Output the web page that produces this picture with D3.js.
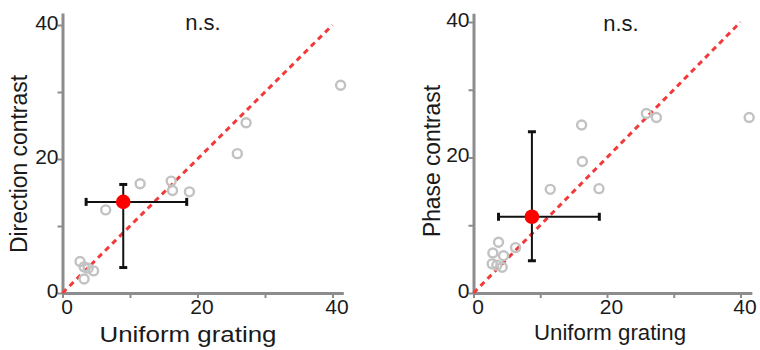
<!DOCTYPE html>
<html><head><meta charset="utf-8">
<script src="https://cdn.jsdelivr.net/npm/d3@7"></script>
<style>
html,body{margin:0;padding:0;background:#fff;}
svg{display:block;font-family:"Liberation Sans",Arial,Helvetica,sans-serif;}
</style></head>
<body><svg id="chart" width="760" height="350"></svg>
<script>
// ---- data ----
const tickValues = [0, 10, 20, 30, 40];
const tickLabels = ["0", "", "20", "", "40"];
const xAxisTitle = "Uniform grating";
const panelTitles = ["n.s.", "n.s."];
const yAxisTitles = ["Direction contrast", "Phase contrast"];

// panel 1: Uniform grating vs Direction contrast
const uniformDir   = [41.2, 27.2, 25.9, 11.5, 16.1, 16.3, 18.8, 6.4, 2.6, 3.2, 4.6, 3.2, 3.8];
const directionVal = [31.0, 25.4, 20.8, 16.3, 16.7, 15.3, 15.1, 12.4, 4.7, 3.9, 3.3, 2.1, 3.7];
const meanDir = [9.0, 13.6];
const errDirX = [3.5, 18.4];
const errDirY = [3.8, 16.2];

// panel 2: Uniform grating vs Phase contrast
const uniformPh = [41.3, 25.9, 27.4, 16.2, 16.3, 11.5, 18.8, 6.3, 3.75, 2.9, 4.5, 2.8, 3.5, 4.3];
const phaseVal  = [25.9, 26.5, 25.9, 24.8, 19.4, 15.3, 15.4, 6.7, 7.5, 5.9, 5.5, 4.3, 4.1, 3.8];
const meanPh = [8.75, 11.25];
const errPhX = [3.75, 18.85];
const errPhY = [4.76, 23.8];

const identityLine = [0, 40];

// ---- drawing ----
const svg = d3.select("#chart");
const axisColor = "#8c8c8c";
const textColor = "#1a1a1a";

function drawPanel(o) {
  const g = svg.append("g");
  const x = d3.scaleLinear().domain([0, 40]).range(o.xRange);
  const y = d3.scaleLinear().domain([0, 40]).range(o.yRange);

  // axes
  const xAx = d3.scaleLinear().domain([0, o.xMax]).range([o.xRange[0], x(o.xMax)]);
  const yAx = d3.scaleLinear().domain([0, o.yMax]).range([o.yRange[0], y(o.yMax)]);
  const gx = g.append("g").attr("transform", `translate(0,${o.yRange[0]})`)
    .call(d3.axisBottom(xAx).tickValues(tickValues)
      .tickFormat((d, i) => tickLabels[i]).tickSize(5).tickSizeOuter(0));
  const gy = g.append("g").attr("transform", `translate(${o.xRange[0]},0)`)
    .call(d3.axisLeft(yAx).tickValues(tickValues)
      .tickFormat((d, i) => tickLabels[i]).tickSize(5).tickSizeOuter(0));
  [gx, gy].forEach(a => {
    a.select(".domain").attr("stroke", axisColor).attr("stroke-width", 3);
    a.selectAll(".tick line").attr("stroke", axisColor).attr("stroke-width", 2);
    a.selectAll(".tick text").attr("fill", textColor)
      .style("font-size", "21px").style("font-family", "'Liberation Sans',Arial,sans-serif");
  });
  gx.selectAll(".tick text").attr("y", 6).attr("dx", "4px");
  gy.selectAll(".tick text").attr("x", -4).attr("dy", "0.2em");

  // identity dashed line
  g.append("line")
    .attr("x1", x(identityLine[0])).attr("y1", y(identityLine[0]))
    .attr("x2", x(identityLine[1])).attr("y2", y(identityLine[1]))
    .attr("stroke", "#f23a3a").attr("stroke-width", 3)
    .attr("stroke-dasharray", "5.5,4.5");

  // points
  g.selectAll("circle.pt").data(o.xs.map((v, i) => [v, o.ys[i]])).enter()
    .append("circle").attr("class", "pt")
    .attr("cx", d => x(d[0])).attr("cy", d => y(d[1])).attr("r", 4.5)
    .attr("fill", "none").attr("stroke", "#c2c2c2").attr("stroke-width", 2.4);

  // error bars
  const eb = g.append("g").attr("stroke", "#111");
  eb.append("line").attr("x1", x(o.ex[0])).attr("x2", x(o.ex[1]))
    .attr("y1", y(o.mean[1])).attr("y2", y(o.mean[1])).attr("stroke-width", 2);
  eb.append("line").attr("y1", y(o.ey[0])).attr("y2", y(o.ey[1]))
    .attr("x1", x(o.mean[0])).attr("x2", x(o.mean[0])).attr("stroke-width", 2);
  o.ex.forEach(v => eb.append("line").attr("x1", x(v)).attr("x2", x(v))
    .attr("y1", y(o.mean[1]) - 4).attr("y2", y(o.mean[1]) + 4).attr("stroke-width", 3));
  o.ey.forEach(v => eb.append("line").attr("y1", y(v)).attr("y2", y(v))
    .attr("x1", x(o.mean[0]) - 4).attr("x2", x(o.mean[0]) + 4).attr("stroke-width", 3));

  g.append("circle").attr("cx", x(o.mean[0])).attr("cy", y(o.mean[1]))
    .attr("r", 7.3).attr("fill", "#ff0000");

  // titles
  g.append("text").attr("x", o.title[0]).attr("y", o.title[1])
    .attr("text-anchor", "middle").attr("fill", textColor)
    .style("font-size", "22px").text(o.titleText);
  g.append("text").attr("x", o.xl[0]).attr("y", o.xl[1])
    .attr("text-anchor", "middle").attr("fill", textColor)
    .attr("textLength", o.xl[2]).attr("lengthAdjust", "spacingAndGlyphs")
    .style("font-size", "22px").text(xAxisTitle);
  g.append("text").attr("transform", `translate(${o.yl[0]},${o.yl[1]}) rotate(-90)`)
    .attr("text-anchor", "middle").attr("fill", textColor)
    .attr("textLength", o.yl[2]).attr("lengthAdjust", "spacingAndGlyphs")
    .style("font-size", "23px").text(o.yText);
}

drawPanel({
  xRange: [62.5, 332.5], yRange: [293, 25], xMax: 41.6, yMax: 41.8,
  xs: uniformDir, ys: directionVal, mean: meanDir, ex: errDirX, ey: errDirY,
  title: [203, 30], titleText: panelTitles[0],
  xl: [188, 342, 177], yl: [27, 164, 178], yText: yAxisTitles[0]
});
drawPanel({
  xRange: [473.5, 740.5], yRange: [293, 22], xMax: 41.7, yMax: 41.3,
  xs: uniformPh, ys: phaseVal, mean: meanPh, ex: errPhX, ey: errPhY,
  title: [621, 31], titleText: panelTitles[1],
  xl: [610, 340, 152], yl: [440, 161, 152], yText: yAxisTitles[1]
});
</script></body></html>
